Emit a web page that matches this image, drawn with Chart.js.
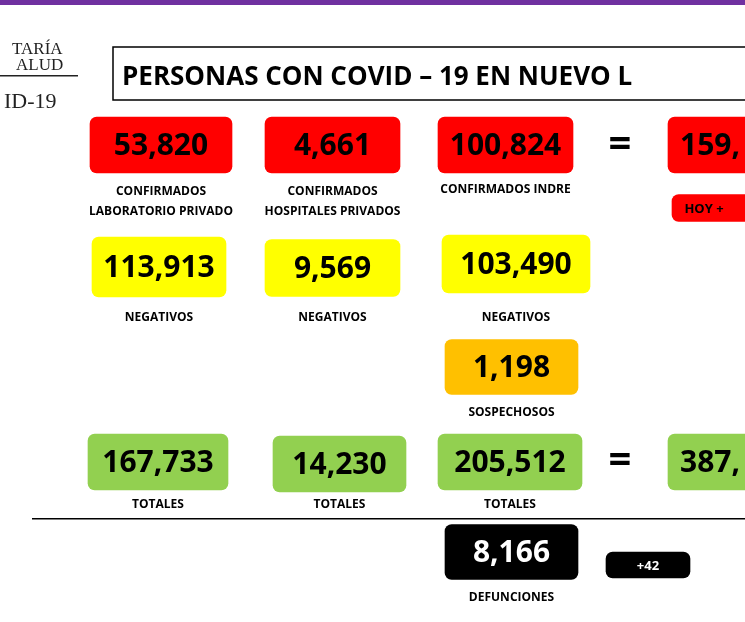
<!DOCTYPE html>
<html><head><meta charset="utf-8">
<script src="https://cdn.jsdelivr.net/npm/chart.js@4/dist/chart.umd.min.js"></script>
<style>html,body{margin:0;padding:0;background:#fff}canvas{display:block}</style>
</head><body>
<canvas id="c" width="745" height="622"></canvas>
<script>
// values
const values = ["53,820","4,661","100,824","159,","113,913","9,569","103,490","1,198","167,733","14,230","205,512","387,","8,166","+42","HOY +"];
const categories = ["CONFIRMADOS\nLABORATORIO PRIVADO","CONFIRMADOS\nHOSPITALES PRIVADOS","CONFIRMADOS INDRE","","NEGATIVOS","NEGATIVOS","NEGATIVOS","SOSPECHOSOS","TOTALES","TOTALES","TOTALES","","DEFUNCIONES","",""];
const kinds = ["r","r","r","r","y","y","y","o","g","g","g","g","k","k","r"];
// layout (box extents in chart units)
const xs = [[90,232],[265,400],[438,573],[668,760],[92,226],[265,400],[442,590],[445,578],[88,228],[273,406],[438,582],[668,760],[445,578],[606,690],[672,760]];
const yc = [145,145,145,145,267,268,264,367,462,464,462,462,552,565,208];
const hs = [56,56,56,56,60,57,58,55,56,56,56,56,55,26,27];
const labelY = [192,192,190,0,318,318,318,413,505,505,505,0,598,0,0];
const colors = {r:"#ff0000",y:"#ffff00",o:"#ffc000",g:"#92d050",k:"#000000"};

const overlay = {
  id:"overlay",
  afterDatasetsDraw(chart){
    const c = chart.ctx, X = chart.scales.x, Y = chart.scales.y;
    c.save();
    c.fillStyle="#7030a0"; c.fillRect(0,0,745,5);
    c.fillStyle="#222"; c.font="17px 'Liberation Serif'"; c.textBaseline="alphabetic"; c.textAlign="left";
    c.fillText("TARÍA",12,54); c.fillText("ALUD",16,70);
    c.fillRect(0,75,78,1.5);
    c.font="22px 'Liberation Serif'"; c.fillText("ID-19",4,108);
    c.strokeStyle="#000"; c.lineWidth=1.5; c.strokeRect(X.getPixelForValue(113),Y.getPixelForValue(47),700,53);
    c.font="bold 26px 'Open Sans'"; c.fillStyle="#000"; c.fillText("PERSONAS CON COVID – 19 EN NUEVO L",122,85);
    c.font="bold 40px 'Open Sans'"; c.textAlign="center"; c.textBaseline="middle";
    c.fillText("=",X.getPixelForValue(620),Y.getPixelForValue(146));
    c.fillText("=",X.getPixelForValue(620),Y.getPixelForValue(462));
    c.fillRect(X.getPixelForValue(32),Y.getPixelForValue(518),745,1.5);
    values.forEach((v,i)=>{
      const k = kinds[i];
      c.fillStyle = k==="k" ? "#fff" : "#000";
      const small = hs[i] < 30;
      c.font = small ? "bold 13px 'Open Sans'" : "bold 30px 'Open Sans'";
      const left = i===3||i===11;
      c.textAlign = left ? "left" : "center";
      const x0 = X.getPixelForValue(xs[i][0]);
      const cx = (x0+X.getPixelForValue(xs[i][1]))/2;
      const y = Y.getPixelForValue(yc[i]);
      c.fillText(v, left ? x0+12 : (i===14? x0+32: cx), y+1);
      if(categories[i]){
        c.fillStyle="#000"; c.font="bold 12px 'Open Sans'"; c.textAlign="center";
        categories[i].split("\n").forEach((l,j)=>c.fillText(l,cx,Y.getPixelForValue(labelY[i]+j*20)));
      }
    });
    c.restore();
  }
};

new Chart(document.getElementById("c"),{
  type:"bar",
  data:{labels:["a"],datasets: values.map((v,i)=>({
    data:[{x:xs[i],y:yc[i]}],
    backgroundColor: colors[kinds[i]],
    barThickness: hs[i],
    grouped:false,
    borderRadius: 7, borderSkipped:false
  }))},
  options:{
    indexAxis:"y", responsive:false, animation:false, devicePixelRatio:1,
    layout:{padding:0},
    plugins:{legend:{display:false},tooltip:{enabled:false}},
    scales:{
      x:{type:"linear",min:0,max:745,display:false,offset:false},
      y:{type:"linear",min:0,max:622,reverse:true,display:false,offset:false}
    }
  },
  plugins:[overlay]
});
</script>
</body></html>
